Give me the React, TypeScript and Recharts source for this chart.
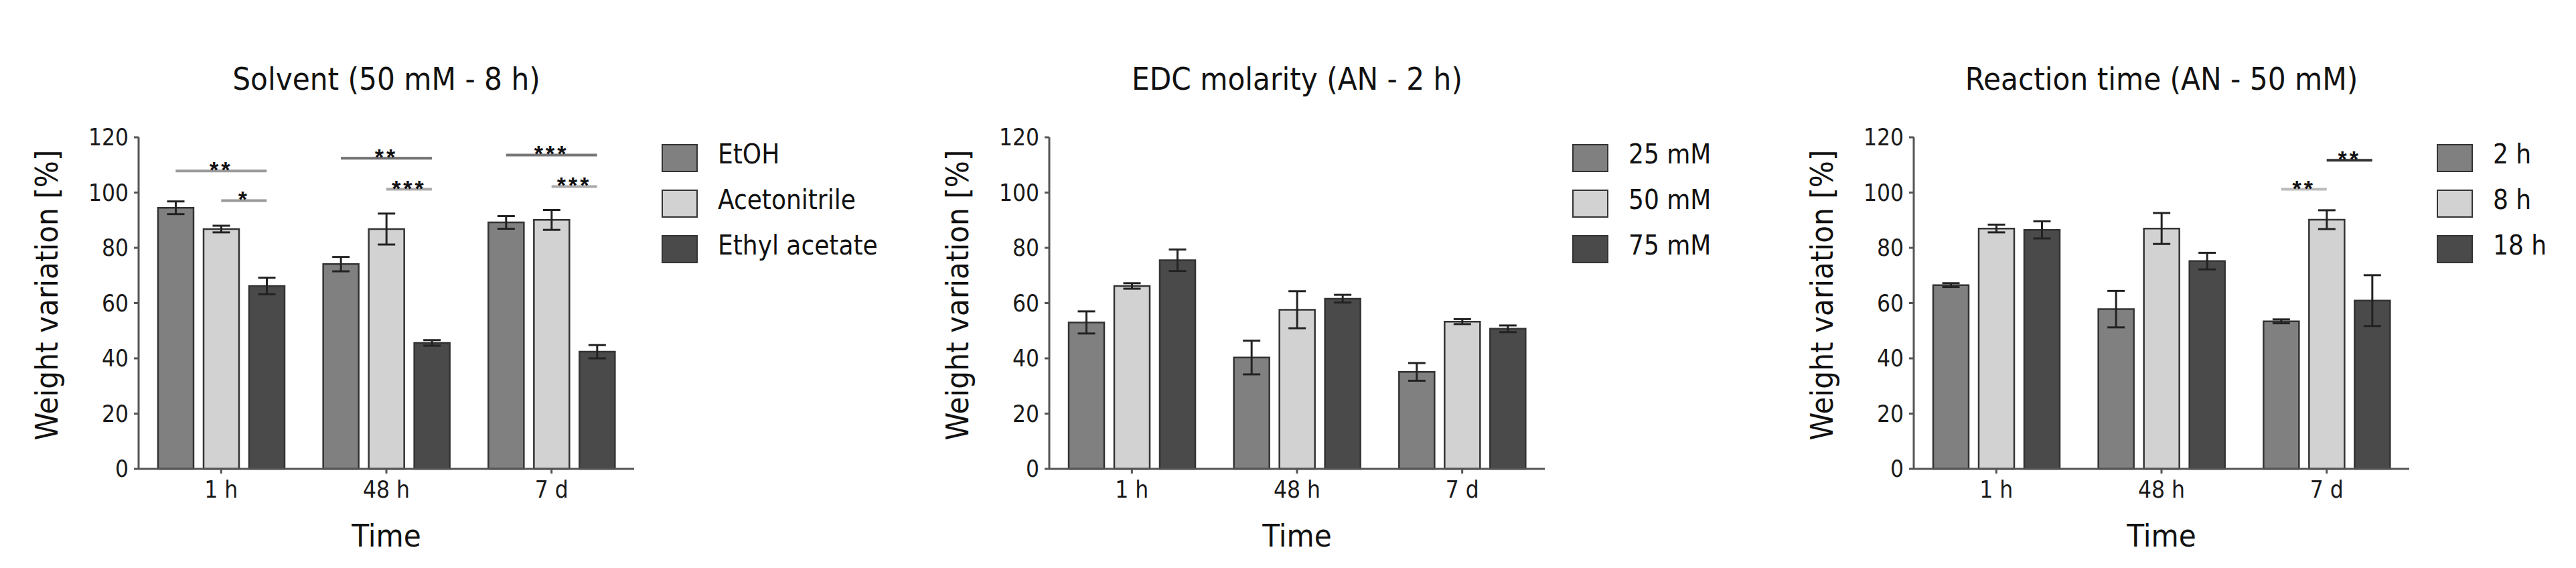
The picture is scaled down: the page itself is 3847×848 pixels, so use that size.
import React from 'react'
import { BarChart, Bar, XAxis, YAxis, ErrorBar, ReferenceLine } from 'recharts'

const categories = ['1 h', '48 h', '7 d']
const yTicks = [0, 20, 40, 60, 80, 100, 120]
const barColors = ['#808080', '#d2d2d2', '#4a4a4a']

// Solvent (50 mM - 8 h)
const solventNames = ['EtOH', 'Acetonitrile', 'Ethyl acetate']
const etoh = [94.5, 74.1, 89.2]
const etohErr = [2.3, 2.6, 2.3]
const acetonitrile = [86.8, 86.8, 90.1]
const acetonitrileErr = [1.2, 5.6, 3.6]
const ethylAcetate = [66.2, 45.6, 42.4]
const ethylAcetateErr = [3.0, 1.0, 2.4]

// EDC molarity (AN - 2 h)
const molarityNames = ['25 mM', '50 mM', '75 mM']
const mm25 = [53.0, 40.3, 35.1]
const mm25Err = [4.0, 6.1, 3.2]
const mm50 = [66.2, 57.6, 53.3]
const mm50Err = [1.0, 6.7, 0.9]
const mm75 = [75.5, 61.6, 50.7]
const mm75Err = [3.9, 1.4, 1.2]

// Reaction time (AN - 50 mM)
const reactionNames = ['2 h', '8 h', '18 h']
const h2 = [66.5, 57.8, 53.4]
const h2Err = [0.7, 6.6, 0.7]
const h8 = [87.0, 87.0, 90.2]
const h8Err = [1.4, 5.6, 3.4]
const h18 = [86.5, 75.2, 60.9]
const h18Err = [3.1, 3.0, 9.2]

// significance brackets: category index, bar from/to, level, stars
const solventSig = [
  { at: 0, from: 0, to: 2, y: 107.8, label: '**', color: '#9a9a9a' },
  { at: 0, from: 1, to: 2, y: 97.1, label: '*', color: '#9a9a9a' },
  { at: 1, from: 0, to: 2, y: 112.4, label: '**', color: '#707070' },
  { at: 1, from: 1, to: 2, y: 101.2, label: '***', color: '#aaaaaa' },
  { at: 2, from: 0, to: 2, y: 113.6, label: '***', color: '#777777' },
  { at: 2, from: 1, to: 2, y: 102.2, label: '***', color: '#aaaaaa' },
]
const molaritySig: typeof solventSig = []
const reactionSig = [
  { at: 2, from: 0, to: 1, y: 101.2, label: '**', color: '#bbbbbb' },
  { at: 2, from: 1, to: 2, y: 111.7, label: '**', color: '#333333' },
]

const FONT = "'DejaVu Sans Condensed', 'DejaVu Sans', sans-serif"
const CHART_W = 1260
const CHART_H = 848
const AXIS_W = 207
const PLOT_W = 740
const TOP = 205
const X_AXIS_H = 148
const BAR = 53
const GAP = 15
const step = (BAR + GAP) / (PLOT_W / categories.length)

function Panel({ left, title, names, values, errors, sig }: any) {
  const data = categories.map((time, i) => {
    const row: any = { time, idx: i }
    names.forEach((_: string, k: number) => {
      row['v' + k] = values[k][i]
      row['e' + k] = errors[k][i]
    })
    return row
  })

  return (
    <div style={{ position: 'absolute', left, top: 0, width: CHART_W, height: CHART_H }}>
      <div
        style={{
          position: 'absolute', left: AXIS_W, width: PLOT_W, top: 90,
          textAlign: 'center', fontFamily: FONT, fontStretch: 'condensed',
          fontSize: 47, lineHeight: '56px', color: '#111', whiteSpace: 'nowrap',
        }}
      >
        {title}
      </div>
      <BarChart
        width={CHART_W}
        height={CHART_H}
        data={data}
        margin={{ top: TOP, right: CHART_W - AXIS_W - PLOT_W, bottom: 0, left: 0 }}
        barSize={BAR}
        barGap={GAP}
      >
        <XAxis
          dataKey="time"
          height={X_AXIS_H}
          tickSize={7}
          tickMargin={11}
          axisLine={{ stroke: '#555', strokeWidth: 3 }}
          tickLine={{ stroke: '#555', strokeWidth: 3 }}
          tick={{ fill: '#1a1a1a', fontSize: 35, fontFamily: FONT }}
          label={{ value: 'Time', position: 'insideBottom', offset: 32, fill: '#111', fontSize: 47, fontFamily: FONT }}
        />
        <XAxis
          xAxisId="pos"
          dataKey="idx"
          type="number"
          domain={[-0.5, categories.length - 0.5]}
          allowDataOverflow
          hide
        />
        <YAxis
          width={AXIS_W}
          domain={[0, 120]}
          ticks={yTicks}
          interval={0}
          tickSize={7}
          tickMargin={8}
          axisLine={{ stroke: '#555', strokeWidth: 3 }}
          tickLine={{ stroke: '#555', strokeWidth: 3 }}
          tick={{ fill: '#1a1a1a', fontSize: 35, fontFamily: FONT }}
          label={{
            value: 'Weight variation [%]', angle: -90, position: 'center', dx: -34, dy: -12,
            fill: '#111', fontSize: 47, fontFamily: FONT,
          }}
        />
        {names.map((n: string, k: number) => (
          <Bar
            key={n}
            dataKey={'v' + k}
            name={n}
            fill={barColors[k]}
            stroke="#333"
            strokeWidth={2.5}
            isAnimationActive={false}
          >
            <ErrorBar dataKey={'e' + k} width={13} stroke="#222" strokeWidth={3} direction="y" />
          </Bar>
        ))}
        {sig.map((s: any, j: number) => (
          <ReferenceLine
            key={j}
            xAxisId="pos"
            ifOverflow="visible"
            segment={[
              { x: s.at + (s.from - 1) * step, y: s.y },
              { x: s.at + (s.to - 1) * step, y: s.y },
            ]}
            stroke={s.color}
            strokeWidth={4}
            label={{
              value: s.label, position: 'top', offset: -10, fill: '#111',
              fontSize: 34, fontWeight: 'bold', fontFamily: "'Liberation Sans', Arial, sans-serif",
              letterSpacing: 4,
            }}
          />
        ))}
      </BarChart>
      {names.map((n: string, k: number) => (
        <React.Fragment key={n}>
          <div
            style={{
              position: 'absolute', left: AXIS_W + 781, top: 215 + k * 68, width: 50, height: 38,
              background: barColors[k], border: '2px solid #333',
            }}
          />
          <div
            style={{
              position: 'absolute', left: AXIS_W + 865, top: 210 + k * 68,
              fontFamily: FONT, fontStretch: 'condensed', fontSize: 40, lineHeight: '40px',
              color: '#111', whiteSpace: 'nowrap',
            }}
          >
            {n}
          </div>
        </React.Fragment>
      ))}
    </div>
  )
}

export default function App() {
  return (
    <div style={{ position: 'absolute', left: 0, top: 0, width: 3847, height: 848, background: '#fff' }}>
      <Panel
        left={0}
        title="Solvent (50 mM - 8 h)"
        names={solventNames}
        values={[etoh, acetonitrile, ethylAcetate]}
        errors={[etohErr, acetonitrileErr, ethylAcetateErr]}
        sig={solventSig}
      />
      <Panel
        left={1360}
        title="EDC molarity (AN - 2 h)"
        names={molarityNames}
        values={[mm25, mm50, mm75]}
        errors={[mm25Err, mm50Err, mm75Err]}
        sig={molaritySig}
      />
      <Panel
        left={2651}
        title="Reaction time (AN - 50 mM)"
        names={reactionNames}
        values={[h2, h8, h18]}
        errors={[h2Err, h8Err, h18Err]}
        sig={reactionSig}
      />
    </div>
  )
}
